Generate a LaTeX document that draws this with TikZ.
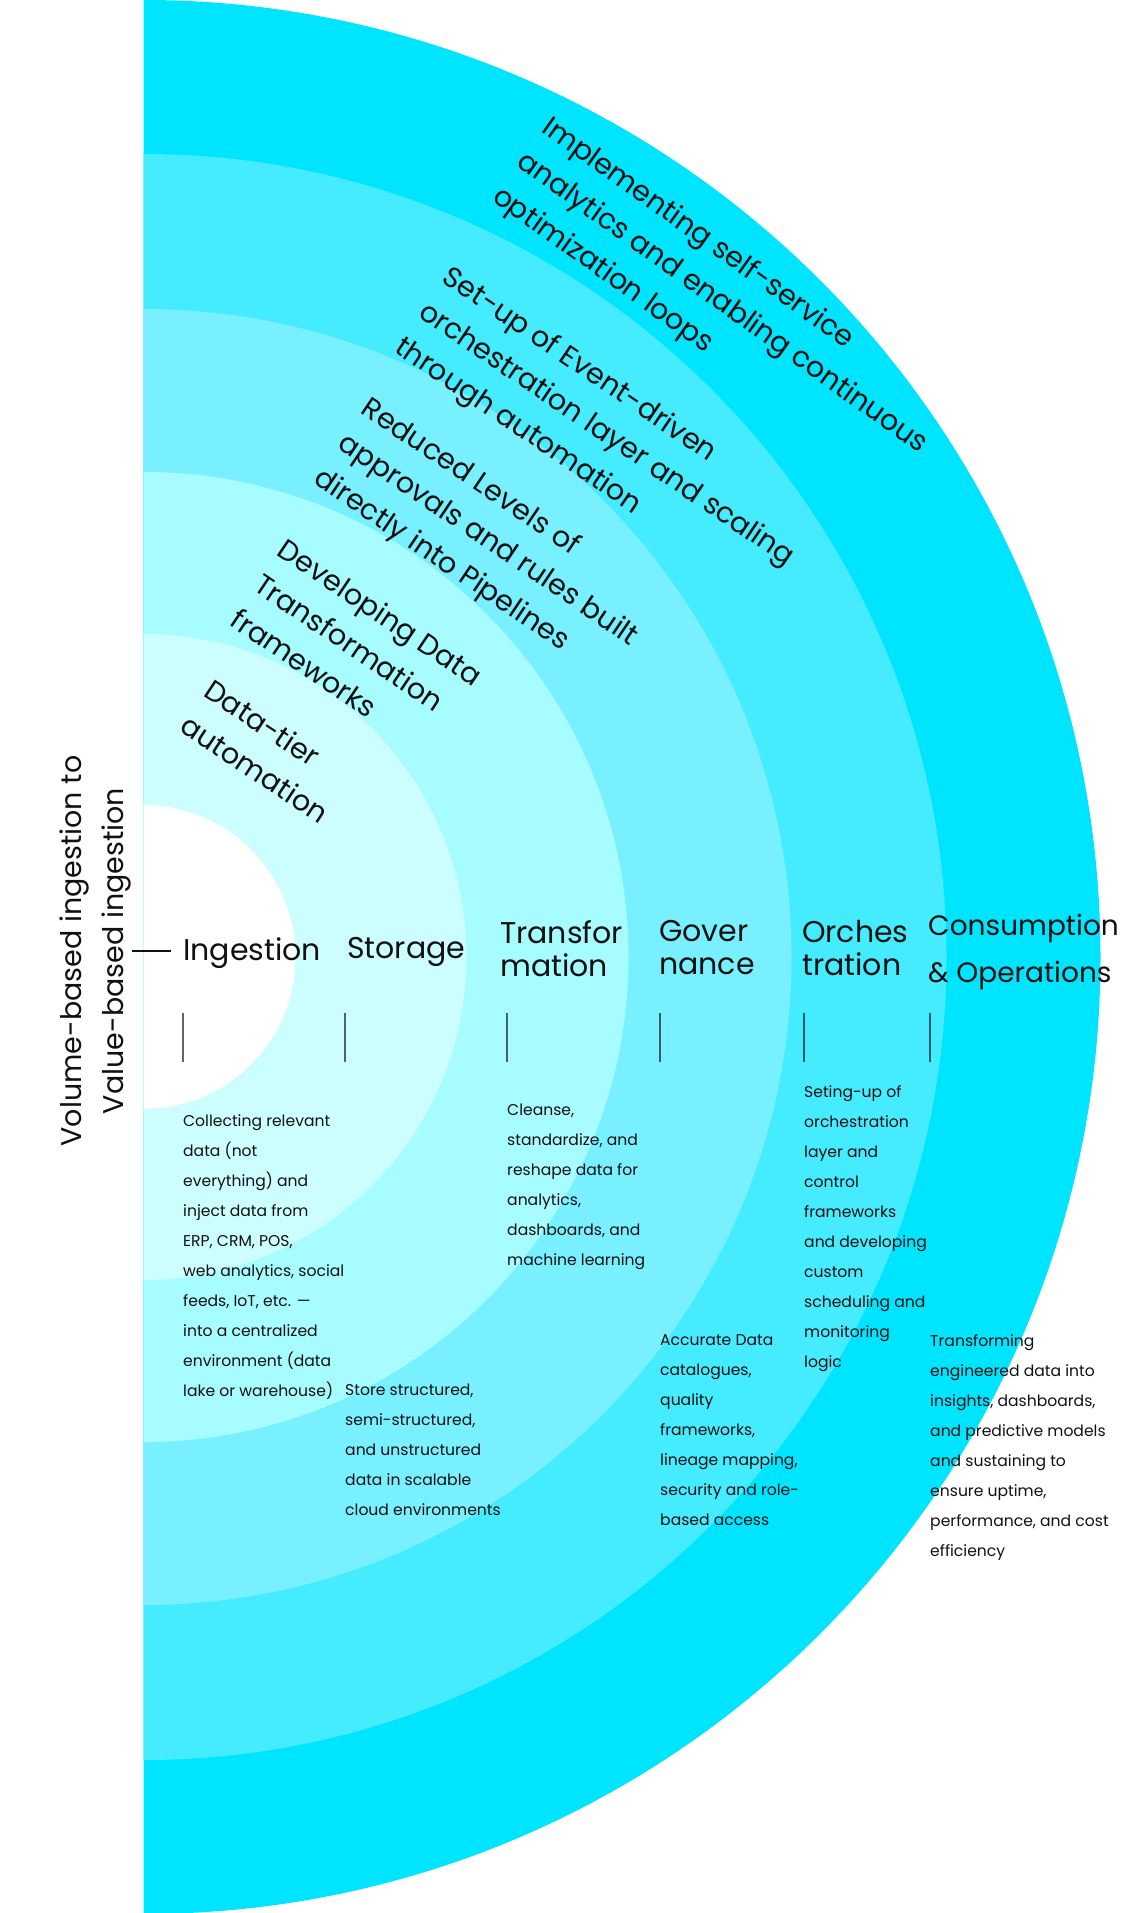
\documentclass[tikz,border=0pt]{standalone}
\usepackage{fontspec}
\setmainfont{Poppins}
\usepackage{xcolor}
\usepackage{tikz}
\usetikzlibrary{positioning, calc}
\definecolor{ringA}{HTML}{00E5FF}
\definecolor{ringB}{HTML}{45EBFF}
\definecolor{ringC}{HTML}{78F0FF}
\definecolor{ringD}{HTML}{A6FCFF}
\definecolor{ringE}{HTML}{CCFEFF}
\definecolor{ink}{HTML}{111111}
\tikzstyle{header} = [anchor=north west, inner sep=0pt, align=left,
                      font=\fontsize{30}{33}\selectfont, text=ink]
\tikzstyle{body}   = [anchor=north west, inner sep=0pt, align=left,
                      font=\fontsize{15.6}{30}\selectfont, text=ink]
\tikzstyle{goal}   = [anchor=north west, inner sep=0pt, align=left,
                      font=\fontsize{28.6}{42.5}\selectfont, text=ink]
\tikzstyle{tick}   = [draw=black, draw opacity=0.6, line width=1.5pt]
\tikzstyle{link}   = [draw=ink, line width=1.2pt]

\begin{document}
\begin{tikzpicture}[x=1pt, y=-1pt]
  \useasboundingbox (0,0) rectangle (1125,1913);

  % the nested half rings
  \begin{scope}
    \clip (143.5,0) rectangle (1125,1913);
    \foreach \r/\c in {957/ringA, 803/ringB, 648/ringC, 485/ringD, 323/ringE, 152/white}
      \fill[\c] (143.5,957) circle[radius=\r];
  \end{scope}

  % automation goals, one per ring
  \node[goal, rotate=-33.5] (g1) at (214,677) {Data-tier\\automation};
  \node[goal, rotate=-34] (g2) at (288,536) {Developing Data\\Transformation\\frameworks};
  \node[goal, rotate=-34] (g3) at (372,394) {Reduced Levels of\\approvals and rules built\\directly into Pipelines};
  \node[goal, rotate=-34] (g4) at (453,263) {Set-up of Event-driven\\orchestration layer and scaling\\through automation};
  \node[goal, rotate=-35.5] (g5) at (553,113) {Implementing self-service\\analytics and enabling continuous\\optimization loops};

  % side label
  \node[rotate=90, align=center, inner sep=0pt, text=ink,
        font=\fontsize{28.5}{42}\selectfont] (shift) at (96,951)
        {Volume-based ingestion to\\Value-based ingestion};

  % stage headers
  \node[header] (ingH) at (183,937) {Ingestion};
  \node[header] (stoH) at (347,937) {Storage};
  \node[header] (traH) at (500,920) {Transfor\\mation};
  \node[header] (govH) at (659,920) {Gover\\nance};
  \node[header] (orcH) at (802,920) {Orches\\tration};
  \node[header, font=\fontsize{28}{47}\selectfont] (conH) at (928,914) {Consumption\\\& Operations};

  \draw[link] (shift.south -| 132,0) -- (shift.south -| 171,0);

  % stage descriptions
  \node[body] (ingB) at (183,1114) {Collecting relevant\\data (not\\everything) and\\inject data from\\ERP, CRM, POS,\\web analytics, social\\feeds, IoT, etc. —\\into a centralized\\environment (data\\lake or warehouse)};
  \node[body] (stoB) at (345,1384) {Store structured,\\semi-structured,\\and unstructured\\data in scalable\\cloud environments};
  \node[body] (traB) at (507,1104) {Cleanse,\\standardize, and\\reshape data for\\analytics,\\dashboards, and\\machine learning};
  \node[body] (govB) at (660,1334) {Accurate Data\\catalogues,\\quality\\frameworks,\\lineage mapping,\\security and role-\\based access};
  \node[body] (orcB) at (804,1085) {Seting-up of\\orchestration\\layer and\\control\\frameworks\\and developing\\custom\\scheduling and\\monitoring\\logic};
  \node[body] (conB) at (930,1334) {Transforming\\engineered data into\\insights, dashboards,\\and predictive models\\and sustaining to\\ensure uptime,\\performance, and cost\\efficiency};

  \coordinate (tickTop) at (0,1013);
  \coordinate (tickBot) at (0,1062);
  \foreach \b in {ingB, stoB, traB, govB, orcB, conB}
    \draw[tick] (\b.north west |- tickTop) -- (\b.north west |- tickBot);
\end{tikzpicture}
\end{document}
